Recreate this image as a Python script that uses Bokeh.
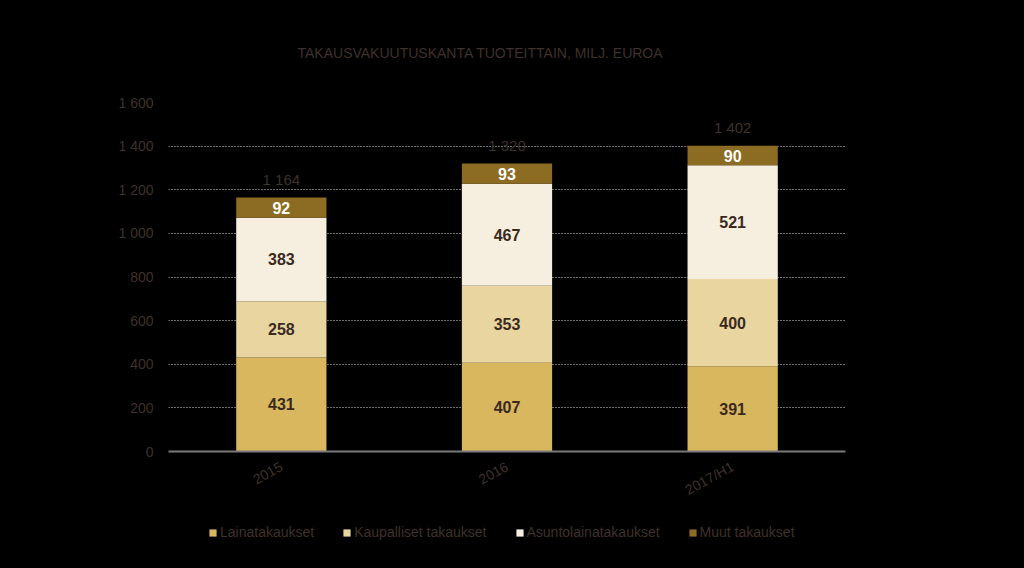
from bokeh.plotting import figure
from bokeh.layouts import column
from bokeh.models import ColumnDataSource, FixedTicker, Legend, LegendItem, Label, Range1d, FactorRange
from bokeh.core.properties import value
from bokeh.embed import file_html
from bokeh.resources import INLINE

categories = ["2015", "2016", "2017/H1"]
series_names = ["Lainatakaukset", "Kaupalliset takaukset", "Asuntolainatakaukset", "Muut takaukset"]
lainat = [431, 407, 391]
kaupalliset = [258, 353, 400]
asuntolainat = [383, 467, 521]
muut = [92, 93, 90]
totals = [1164, 1320, 1402]
total_labels = ["1 164", "1 320", "1 402"]
y_ticks = [0, 200, 400, 600, 800, 1000, 1200, 1400, 1600]
y_tick_labels = ["0", "200", "400", "600", "800", "1 000", "1 200", "1 400", "1 600"]
title_text = "TAKAUSVAKUUTUSKANTA TUOTEITTAIN, MILJ. EUROA"

colors = ["#D8B75E", "#E9D5A0", "#F6EFDF", "#8C6B22"]
text_dark = "#3f312b"
FONT = "Liberation Sans"
BG = {"background-color": "black"}


def strip(height):
    f = figure(width=1024, height=height, output_backend="svg", toolbar_location=None,
               x_range=Range1d(168, 845), y_range=Range1d(0, height),
               x_axis_type=None, y_axis_type=None,
               outline_line_color="black", styles=BG,
               min_border_left=168, min_border_right=179, min_border_top=0, min_border_bottom=0)
    f.background_fill_color = "black"
    f.border_fill_color = "black"
    f.xgrid.visible = False
    f.ygrid.visible = False
    return f


# title strip
tt = strip(62)
tt.add_layout(Label(x=297, y=10, text=title_text, text_align="left", text_baseline="middle",
                    text_font=FONT, text_font_size="14px", text_color=text_dark))

# main chart
keys = ["a", "b", "c", "d"]
src = ColumnDataSource(dict(x=categories, a=lainat, b=kaupalliset, c=asuntolainat, d=muut))

p = figure(x_range=FactorRange(*categories, range_padding=0), y_range=Range1d(0, 1600),
           width=1024, height=458, output_backend="svg", toolbar_location=None,
           outline_line_color="black", styles=BG,
           min_border_left=168, min_border_right=179, min_border_top=40, min_border_bottom=69)
p.background_fill_color = "black"
p.border_fill_color = "black"

rs = p.vbar_stack(keys, x="x", width=0.4, source=src, color=colors, line_color=None)

series = [lainat, kaupalliset, asuntolainat, muut]
for si, vals in enumerate(series):
    base = [sum(s[i] for s in series[:si]) for i in range(len(categories))]
    mids = [b + v / 2 for b, v in zip(base, vals)]
    ls = ColumnDataSource(dict(x=categories, y=mids, t=[str(v) for v in vals]))
    p.text(x="x", y="y", text="t", source=ls, text_align="center", text_baseline="middle",
           text_font=value(FONT), text_font_size="16px", text_font_style="bold",
           text_color="white" if si == 3 else "#3a2a1e")

ts = ColumnDataSource(dict(x=categories, y=totals, t=total_labels))
p.text(x="x", y="y", text="t", source=ts, text_align="center", text_baseline="bottom",
       y_offset=-10, text_font=value(FONT), text_font_size="15px", text_color=text_dark)

p.yaxis.ticker = FixedTicker(ticks=y_ticks)
p.yaxis.major_label_overrides = {t: l for t, l in zip(y_ticks, y_tick_labels)}
p.yaxis.axis_line_color = None
p.yaxis.major_tick_line_color = None
p.yaxis.minor_tick_line_color = None
p.yaxis.major_label_text_color = text_dark
p.yaxis.major_label_text_font = FONT
p.yaxis.major_label_text_font_size = "14px"
p.yaxis.major_label_standoff = 9

p.xaxis.axis_line_color = "#7a7a7a"
p.xaxis.axis_line_width = 2
p.xaxis.major_tick_line_color = None
p.xaxis.minor_tick_line_color = None
p.xaxis.major_label_orientation = 0.5
p.xaxis.major_label_text_color = text_dark
p.xaxis.major_label_text_font = FONT
p.xaxis.major_label_text_font_size = "14px"
p.xaxis.major_label_standoff = 8

p.xgrid.visible = False
p.ygrid.grid_line_color = "#e0e0e0"
p.ygrid.grid_line_dash = "1 2"
p.ygrid.grid_line_width = 1

# legend strip
lg = strip(48)
swatches = [lg.vbar(x=[-100], top=[-100], width=1, color=c, line_color=None) for c in colors]
legend = Legend(items=[LegendItem(label=n, renderers=[r]) for n, r in zip(series_names, swatches)],
                orientation="horizontal", location=(40, 28),
                background_fill_alpha=0, border_line_color=None,
                label_text_color=text_dark, label_text_font=FONT, label_text_font_size="14px",
                glyph_width=9, glyph_height=9, label_standoff=3, spacing=28, padding=0, margin=0)
lg.add_layout(legend, "center")

layout = column(tt, p, lg, spacing=0, styles=BG)
open("out.html", "w").write(file_html(layout, INLINE))
